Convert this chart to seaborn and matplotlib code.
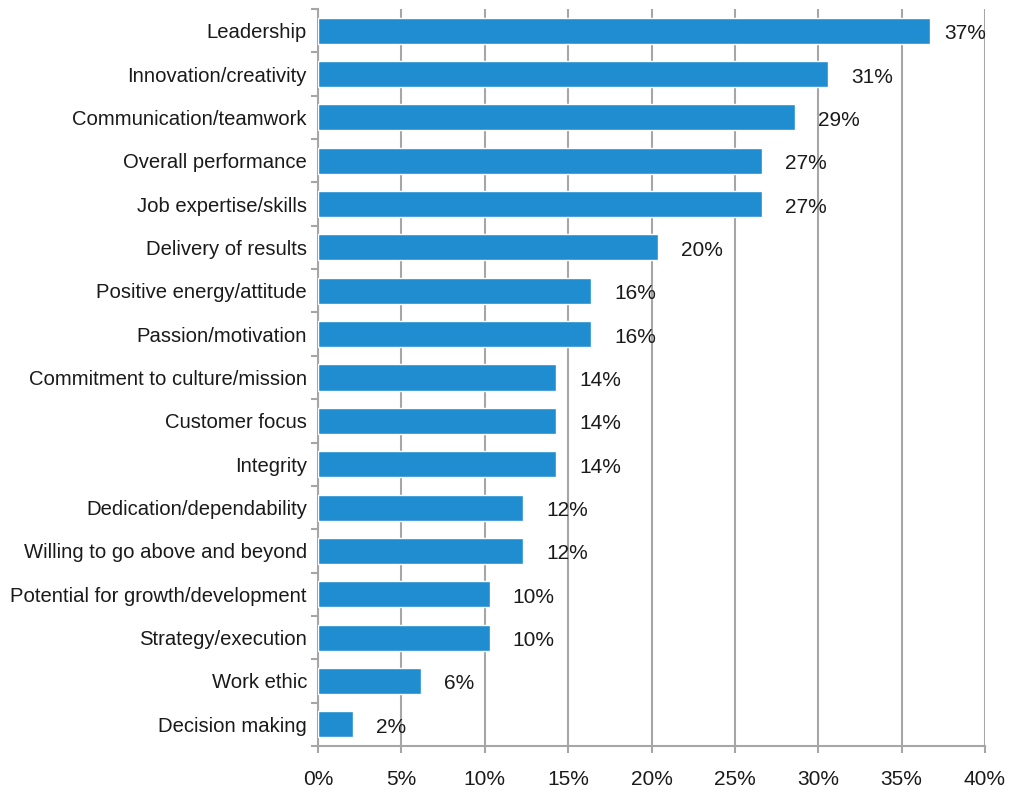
import matplotlib
matplotlib.use("Agg")
import matplotlib.pyplot as plt
from matplotlib.ticker import FixedLocator, PercentFormatter
import numpy as np
import pandas as pd
import seaborn as sns

categories = [
    "Leadership",
    "Innovation/creativity",
    "Communication/teamwork",
    "Overall performance",
    "Job expertise/skills",
    "Delivery of results",
    "Positive energy/attitude",
    "Passion/motivation",
    "Commitment to culture/mission",
    "Customer focus",
    "Integrity",
    "Dedication/dependability",
    "Willing to go above and beyond",
    "Potential for growth/development",
    "Strategy/execution",
    "Work ethic",
    "Decision making",
]
shares = [36.7, 30.6, 28.6, 26.6, 26.6, 20.4, 16.4, 16.4, 14.3, 14.3, 14.3,
          12.3, 12.3, 10.3, 10.3, 6.2, 2.1]
x_ticks = [0, 5, 10, 15, 20, 25, 30, 35, 40]

df = pd.DataFrame({"category": categories, "share": shares})

sns.set_theme(style="white")
plt.rcParams["font.family"] = ["Liberation Sans", "DejaVu Sans"]

bar_color = "#1f8dd0"
grid_color = "#a6a6a6"
text_color = "#1a1a1a"
fs = 15
fs_cat = 14.6

fig = plt.figure(figsize=(10.1, 7.92), dpi=100)
ax = fig.add_axes([318 / 1010, 1 - 746 / 792, (985 - 318) / 1010, (746 - 9) / 792])

sns.barplot(data=df, x="share", y="category", orient="h", color=bar_color,
            saturation=1, width=0.6, ax=ax, zorder=3)

ax.set_xlim(0, 40)
ax.set_ylim(len(categories) - 0.5, -0.5)
ax.xaxis.set_major_locator(FixedLocator(x_ticks))
ax.xaxis.set_major_formatter(PercentFormatter(decimals=0))
ax.grid(axis="x", color=grid_color, linewidth=1.5, zorder=0)
ax.set_axisbelow(True)

for side in ["top", "right"]:
    ax.spines[side].set_visible(False)
for side in ["left", "bottom"]:
    ax.spines[side].set_color(grid_color)
    ax.spines[side].set_linewidth(1.5)

ax.set_xlabel("")
ax.set_ylabel("")

# Category labels sit on the bars; ticks mark the boundaries between them
ax.tick_params(axis="y", which="major", length=0, pad=8, labelsize=fs_cat,
               labelcolor=text_color)
ax.yaxis.set_minor_locator(FixedLocator(np.arange(-0.5, len(categories), 1.0)))
ax.tick_params(axis="y", which="minor", length=5, width=1.5, color=grid_color,
               left=True)
ax.tick_params(axis="x", which="major", length=5, width=1.5, color=grid_color,
               bottom=True, pad=12, labelsize=fs, labelcolor=text_color)

# Value labels to the right of each bar
for i, v in enumerate(shares):
    offset = 23
    if v > 35:
        offset = 14
    ax.annotate(f"{v:.0f}%", xy=(v, i), xytext=(offset, -3),
                textcoords="offset pixels", va="center", ha="left",
                fontsize=fs, color=text_color, zorder=4)

fig.savefig("out.png", dpi=100, facecolor="white")
